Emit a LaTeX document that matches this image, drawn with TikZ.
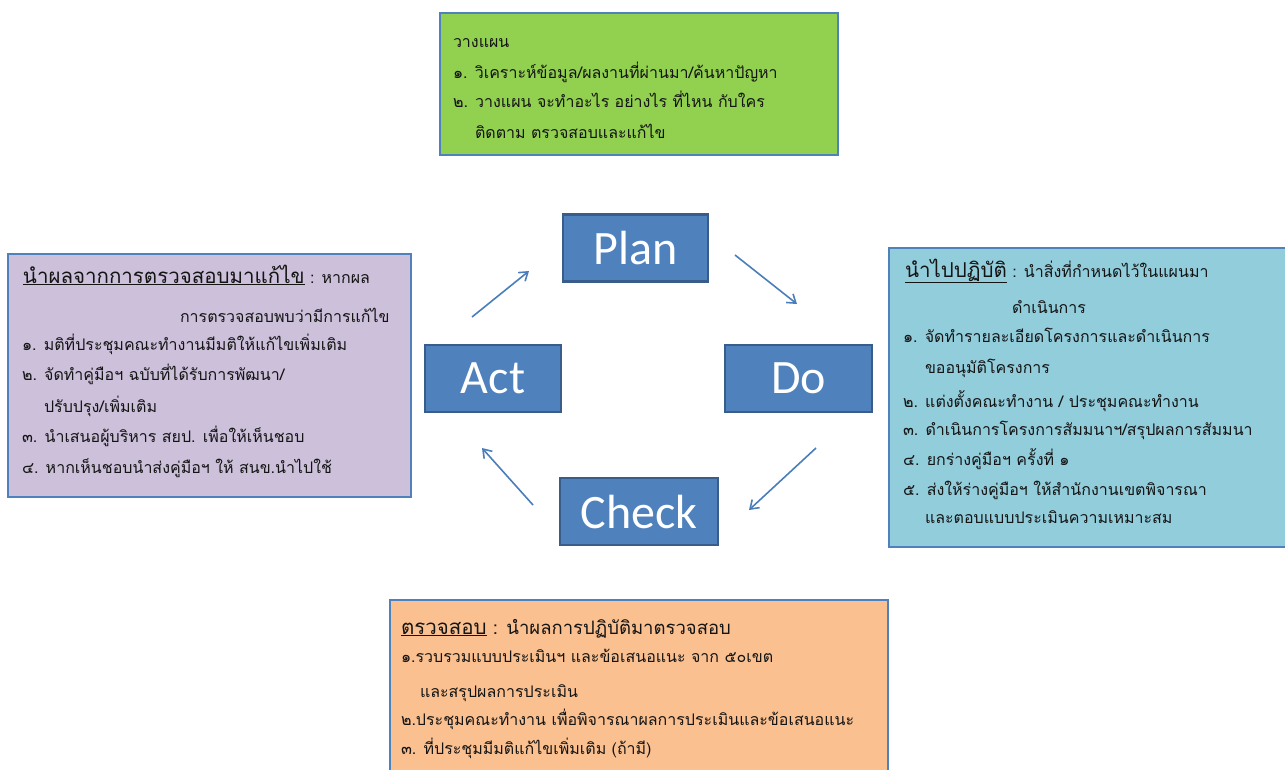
\documentclass[tikz,border=0pt]{standalone}
\usepackage{fontspec}
\setmainfont{Carlito}
\newfontfamily\thaifont[Script=Thai]{Loma}
\usetikzlibrary{arrows.meta}

\definecolor{planfill}{HTML}{92D050}
\definecolor{actfill}{HTML}{CCC0DA}
\definecolor{dofill}{HTML}{92CDDC}
\definecolor{checkfill}{HTML}{FAC090}
\definecolor{paneledge}{HTML}{4F81BD}
\definecolor{stepfill}{HTML}{4F81BD}
\definecolor{stepedge}{HTML}{385D8A}
\definecolor{cyclecol}{HTML}{4A7EBB}
\definecolor{ink}{HTML}{141414}

\newcommand{\itemsize}{\fontsize{16}{16}\selectfont}
\newcommand{\headsize}{\fontsize{20.5}{20.5}\selectfont}
\newcommand{\leadsize}{\fontsize{18.5}{18.5}\selectfont}

\begin{document}
\begin{tikzpicture}[x=1pt,y=-1pt,
  panel/.style={draw=paneledge, line width=1.5pt, anchor=north west,
    inner sep=0pt, outer sep=0pt},
  stepbox/.style={draw=stepedge, fill=stepfill, line width=2.5pt,
    text=white, font=\fontsize{48}{48}\selectfont, inner sep=0pt,
    outer sep=0pt, minimum height=67pt},
  txt/.style={anchor=base west, inner sep=0pt, outer sep=0pt,
    text=ink, font=\thaifont\itemsize},
  cyclearrow/.style={draw=cyclecol, line width=1.6pt,
    -{Straight Barb[length=8pt,width=11pt]}}]

\useasboundingbox (0,0) rectangle (1285,769);
\clip (0,0) rectangle (1285,769);
\fill[white] (0,0) rectangle (1285,769);

% ---- coloured panels ----
\node[panel, fill=planfill, minimum width=398pt, minimum height=142pt] (planpanel) at (440,13) {};
\node[panel, fill=actfill, minimum width=403pt, minimum height=243pt] (actpanel) at (8,254) {};
\node[panel, fill=dofill, minimum width=400pt, minimum height=299pt] (dopanel) at (889,248) {};
\node[panel, fill=checkfill, minimum width=498pt, minimum height=220pt] (checkpanel) at (390,600) {};

% ---- plan panel ----
\node[txt] (p0) at (453,47) {วางแผน};
\node[txt] (p1) at (453,78) {๑. วิเคราะห์ข้อมูล/ผลงานที่ผ่านมา/ค้นหาปัญหา};
\node[txt] (p2) at (453,107) {๒. วางแผน จะทำอะไร อย่างไร ที่ไหน กับใคร};
\node[txt] (p3) at (475,138) {ติดตาม ตรวจสอบและแก้ไข};

% ---- act panel ----
\node[txt] (a0) at (23,283) {{\headsize\underline{นำผลจากการตรวจสอบมาแก้ไข}} : หากผล};
\node[txt] (a0b) at (180,322) {การตรวจสอบพบว่ามีการแก้ไข};
\node[txt] (a1) at (22,350) {๑. มติที่ประชุมคณะทำงานมีมติให้แก้ไขเพิ่มเติม};
\node[txt] (a2) at (22,380) {๒. จัดทำคู่มือฯ ฉบับที่ได้รับการพัฒนา/};
\node[txt] (a2b) at (44,412) {ปรับปรุง/เพิ่มเติม};
\node[txt] (a3) at (22,442) {๓. นำเสนอผู้บริหาร สยป. เพื่อให้เห็นชอบ};
\node[txt] (a4) at (22,473) {๔. หากเห็นชอบนำส่งคู่มือฯ ให้ สนข.นำไปใช้};

% ---- do panel ----
\node[txt] (d0) at (905,277) {{\headsize\underline{นำไปปฏิบัติ}} : นำสิ่งที่กำหนดไว้ในแผนมา};
\node[txt] (d0b) at (1012,313) {ดำเนินการ};
\node[txt] (d1) at (903,342) {๑. จัดทำรายละเอียดโครงการและดำเนินการ};
\node[txt] (d1b) at (925,373) {ขออนุมัติโครงการ};
\node[txt] (d2) at (903,407) {๒. แต่งตั้งคณะทำงาน / ประชุมคณะทำงาน};
\node[txt] (d3) at (903,435) {๓. ดำเนินการโครงการสัมมนาฯ/สรุปผลการสัมมนา};
\node[txt] (d4) at (903,465) {๔. ยกร่างคู่มือฯ ครั้งที่ ๑};
\node[txt] (d5) at (903,495) {๕. ส่งให้ร่างคู่มือฯ ให้สำนักงานเขตพิจารณา};
\node[txt] (d5b) at (925,523) {และตอบแบบประเมินความเหมาะสม};

% ---- check panel ----
\node[txt] (c0) at (401,634) {{\headsize\underline{ตรวจสอบ}}{\leadsize\ : นำผลการปฏิบัติมาตรวจสอบ}};
\node[txt] (c1) at (401,662) {๑.รวบรวมแบบประเมินฯ และข้อเสนอแนะ จาก ๕๐เขต};
\node[txt] (c1b) at (420,697) {และสรุปผลการประเมิน};
\node[txt] (c2) at (401,725) {๒.ประชุมคณะทำงาน เพื่อพิจารณาผลการประเมินและข้อเสนอแนะ};
\node[txt] (c3) at (401,754) {๓. ที่ประชุมมีมติแก้ไขเพิ่มเติม (ถ้ามี)};

% ---- PDCA steps ----
\node[stepbox, minimum width=145pt] (plan) at (635.5,248) {Plan};
\node[stepbox, minimum width=136pt] (act) at (493,378.5) {Act};
\node[stepbox, minimum width=147pt] (do) at (798.5,378.5) {Do};
\node[stepbox, minimum width=158pt] (check) at (639,511.5) {Check};

% ---- cycle arrows ----
\coordinate (actout) at (472,317);
\coordinate (planin) at (529,271);
\coordinate (planout) at (735,255);
\coordinate (doin) at (797,304);
\coordinate (doout) at (816,448);
\coordinate (checkin) at (749,510);
\coordinate (checkout) at (533,505);
\coordinate (actin) at (482,448);

\draw[cyclearrow] (actout) -- (planin);
\draw[cyclearrow] (planout) -- (doin);
\draw[cyclearrow] (doout) -- (checkin);
\draw[cyclearrow] (checkout) -- (actin);
\end{tikzpicture}
\end{document}
